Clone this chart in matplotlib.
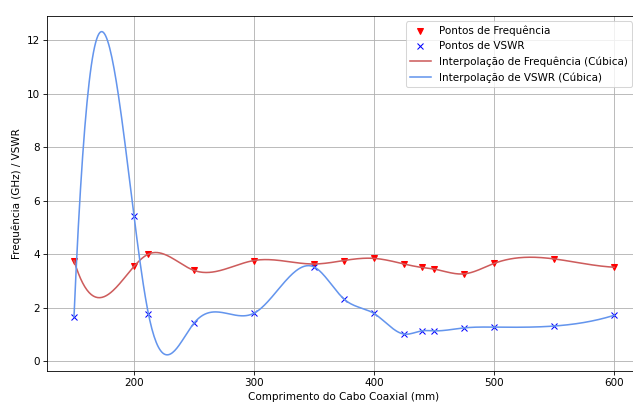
import numpy as np
import matplotlib
matplotlib.use("Agg")
import matplotlib.pyplot as plt

comprimento = [150, 200, 212, 250, 300, 350, 375, 400, 425, 440, 450, 475, 500, 550, 600]
frequencia = [3.76, 3.54, 4.00, 3.39, 3.76, 3.63, 3.76, 3.84, 3.63, 3.50, 3.44, 3.26, 3.65, 3.82, 3.51]
vswr = [1.66, 5.43, 1.77, 1.42, 1.79, 3.52, 2.32, 1.78, 1.01, 1.13, 1.13, 1.24, 1.27, 1.31, 1.71]


def spline_cubica(x, y, xn):
    # spline cubica not-a-knot (igual ao interp1d kind='cubic')
    x = np.asarray(x, float)
    y = np.asarray(y, float)
    n = len(x)
    h = np.diff(x)
    A = np.zeros((n, n))
    b = np.zeros(n)
    A[0, 0] = h[1]
    A[0, 1] = -(h[0] + h[1])
    A[0, 2] = h[0]
    for i in range(1, n - 1):
        A[i, i - 1] = h[i - 1]
        A[i, i] = 2 * (h[i - 1] + h[i])
        A[i, i + 1] = h[i]
        b[i] = 6 * ((y[i + 1] - y[i]) / h[i] - (y[i] - y[i - 1]) / h[i - 1])
    A[-1, -3] = h[-1]
    A[-1, -2] = -(h[-2] + h[-1])
    A[-1, -1] = h[-2]
    M = np.linalg.solve(A, b)
    idx = np.clip(np.searchsorted(x, xn) - 1, 0, n - 2)
    hi = h[idx]
    t0 = x[idx + 1] - xn
    t1 = xn - x[idx]
    return (M[idx] * t0**3 / (6 * hi) + M[idx + 1] * t1**3 / (6 * hi)
            + (y[idx] / hi - M[idx] * hi / 6) * t0
            + (y[idx + 1] / hi - M[idx + 1] * hi / 6) * t1)


x_novo = np.linspace(min(comprimento), max(comprimento), 500)
freq_interp = spline_cubica(comprimento, frequencia, x_novo)
vswr_interp = spline_cubica(comprimento, vswr, x_novo)

DPI = 75
W, H = 633, 403
fig = plt.figure(figsize=(W / DPI, H / DPI), dpi=DPI)
# o eixo passa da borda direita (imagem original cortada)
ax = fig.add_axes([47 / W, 1 - 371 / H, 594 / W, 355.5 / H])

ax.plot(comprimento, frequencia, 'v', color='red', label='Pontos de Frequência')
ax.plot(comprimento, vswr, 'x', color='blue', label='Pontos de VSWR')
ax.plot(x_novo, freq_interp, '-', color='indianred', label='Interpolação de Frequência (Cúbica)')
ax.plot(x_novo, vswr_interp, '-', color='cornflowerblue', label='Interpolação de VSWR (Cúbica)')

ax.set_xlabel('Comprimento do Cabo Coaxial (mm)')
ax.set_ylabel('Frequência (GHz) / VSWR')
ax.legend(loc='upper right', bbox_to_anchor=(632 / W, 1 - 21.5 / H),
          bbox_transform=fig.transFigure, borderaxespad=0)
ax.grid(True)

fig.savefig('out.png', dpi=DPI)
